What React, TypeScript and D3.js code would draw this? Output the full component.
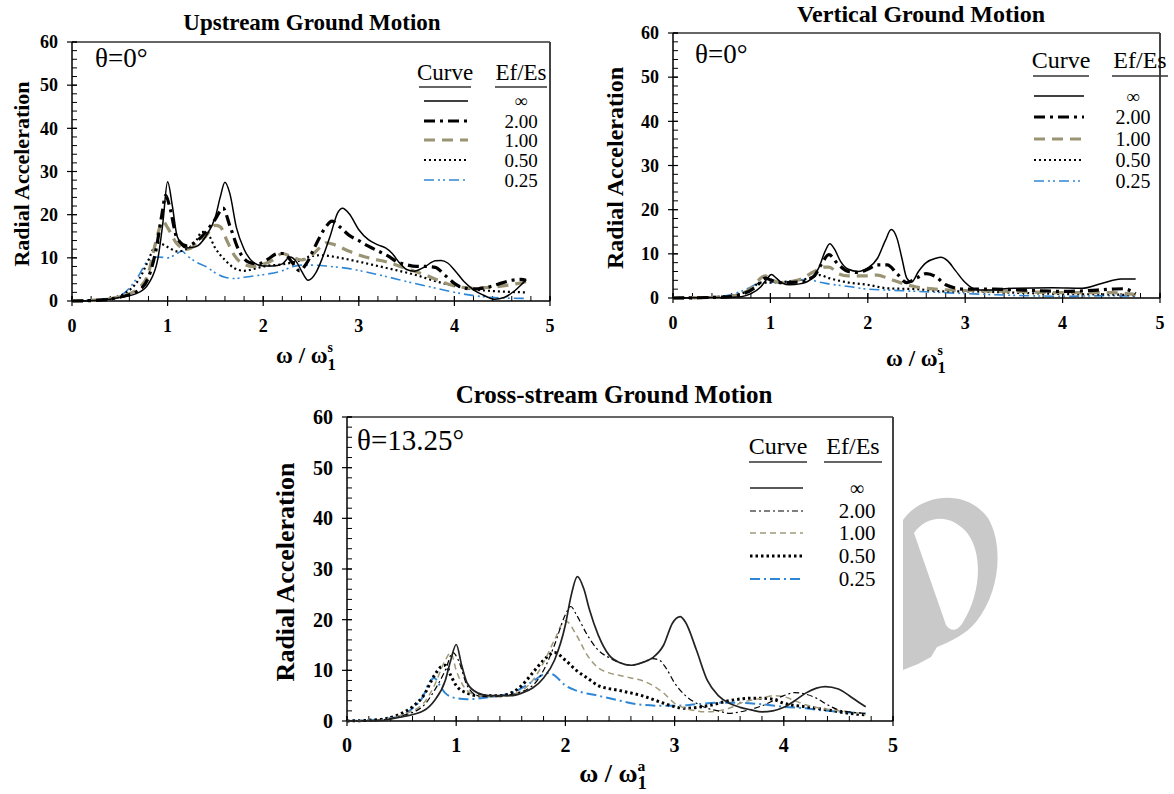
import React from 'react';
import * as d3 from 'd3';

type Pt = [number, number];

const xTickValues = [0, 1, 2, 3, 4, 5];
const yTickValues = [0, 10, 20, 30, 40, 50, 60];
const legendLabels = ['∞', '2.00', '1.00', '0.50', '0.25'];

// ---------- Upstream Ground Motion (θ=0°) ----------
const upInf: Pt[] = [[0,0],[0.3,0.2],[0.5,0.8],[0.7,2],[0.8,4],[0.9,10],[0.95,18],[1.0,27.6],[1.05,22],[1.1,15],[1.19,12.3],[1.3,12.6],[1.4,15],[1.5,19.5],[1.55,24],[1.6,27.5],[1.65,25],[1.72,17],[1.8,12],[1.9,8.9],[2.0,8.1],[2.1,8.1],[2.2,8.6],[2.28,10.2],[2.35,9],[2.4,7],[2.47,4.8],[2.55,6.5],[2.62,10],[2.7,15],[2.78,20.5],[2.83,21.5],[2.9,20.2],[3.0,16.5],[3.1,14.2],[3.2,13],[3.28,12.3],[3.35,11],[3.42,9],[3.5,7.3],[3.58,6.9],[3.68,7.8],[3.8,9.3],[3.86,9.4],[3.93,8.8],[4.0,7.2],[4.1,4.5],[4.2,2.6],[4.3,1.4],[4.42,0.4],[4.52,0.8],[4.62,2.2],[4.7,3.8],[4.75,4.9]];
const upTwo: Pt[] = [[0,0],[0.3,0.2],[0.5,0.9],[0.7,2.5],[0.8,5.5],[0.88,12],[0.94,20],[0.98,24.5],[1.02,22],[1.1,14.5],[1.2,12.8],[1.3,13.8],[1.4,16],[1.5,19],[1.58,21.5],[1.65,17.5],[1.75,11.5],[1.85,9],[1.95,8.6],[2.05,9.7],[2.15,11],[2.22,11],[2.3,9],[2.38,7],[2.45,8.6],[2.55,13],[2.65,17],[2.72,18.5],[2.8,17.2],[2.9,15.2],[3.0,14],[3.1,12.7],[3.2,11.6],[3.3,10.5],[3.4,9.1],[3.5,8.4],[3.6,8],[3.7,8],[3.8,7.8],[3.9,6],[4.0,4.1],[4.1,3],[4.2,2.8],[4.3,3],[4.4,3.5],[4.5,4.2],[4.6,4.8],[4.7,5],[4.75,4.8]];
const upOne: Pt[] = [[0,0],[0.3,0.3],[0.5,1],[0.7,3],[0.8,6.5],[0.88,14],[0.95,18.5],[1.0,17],[1.1,13.2],[1.2,12],[1.3,13],[1.4,15],[1.5,17.5],[1.55,17.2],[1.62,14],[1.7,10.5],[1.8,8.5],[1.9,8],[2.0,8.5],[2.1,9.5],[2.2,11],[2.3,10.2],[2.4,9.5],[2.5,10.5],[2.6,12.5],[2.66,13.5],[2.75,13],[2.9,11.5],[3.1,10],[3.3,9],[3.5,7.5],[3.7,6],[3.9,4.2],[4.0,3.5],[4.2,3],[4.4,3.2],[4.6,3.8],[4.75,4.5]];
const upHalf: Pt[] = [[0,0],[0.3,0.3],[0.5,1.2],[0.6,2.5],[0.7,5],[0.8,9.5],[0.86,12.5],[0.9,13.5],[1.0,12.5],[1.1,11.5],[1.2,12],[1.3,14],[1.36,16],[1.42,15.5],[1.5,12.2],[1.6,9.5],[1.7,7.6],[1.8,7],[1.9,7.4],[2.0,8],[2.2,8.5],[2.4,9.5],[2.5,10.4],[2.6,10.6],[2.8,10],[3.0,9.1],[3.2,8.1],[3.4,7.1],[3.6,6],[3.8,4.6],[4.0,3.5],[4.2,2.7],[4.4,2.3],[4.6,2.1],[4.75,2]];
const upQuarter: Pt[] = [[0,0],[0.3,0.4],[0.5,1.2],[0.6,3],[0.7,6],[0.8,9.5],[0.9,10.2],[1.0,10],[1.1,11],[1.15,11.6],[1.2,10.6],[1.3,9],[1.4,8],[1.5,6.5],[1.6,5.5],[1.7,5.2],[1.8,5.5],[2.0,6.1],[2.2,7],[2.3,7.9],[2.4,8.3],[2.55,8.3],[2.7,8],[2.9,7.5],[3.1,6.6],[3.3,5.6],[3.5,4.5],[3.7,3.5],[3.9,2.5],[4.1,1.6],[4.3,1],[4.5,0.7],[4.75,0.6]];

// ---------- Vertical Ground Motion (θ=0°) ----------
const vtInf: Pt[] = [[0,0],[0.5,0.1],[0.7,0.3],[0.8,1],[0.9,2.5],[0.96,4.2],[1.01,5.3],[1.06,4.5],[1.12,3.4],[1.2,3],[1.3,3.2],[1.4,4],[1.5,7],[1.56,10.5],[1.61,12.3],[1.66,11],[1.72,8.3],[1.8,6.5],[1.9,6],[2.0,6.8],[2.1,9],[2.18,13],[2.24,15.5],[2.3,13.5],[2.35,9],[2.4,4.5],[2.45,3.6],[2.52,6],[2.6,8],[2.7,9],[2.75,9.2],[2.82,8.4],[2.9,6.2],[3.0,3.5],[3.1,2],[3.2,1.8],[3.5,2.2],[3.9,2.3],[4.2,2.2],[4.4,3.3],[4.6,4.3],[4.75,4.3]];
const vtTwo: Pt[] = [[0,0],[0.5,0.2],[0.7,0.8],[0.85,2.5],[0.95,4.5],[1.0,4.1],[1.1,3.5],[1.3,3.6],[1.45,5],[1.52,7.5],[1.6,9.8],[1.7,7.5],[1.8,6],[1.9,5.8],[2.0,6.5],[2.1,7.5],[2.2,7.5],[2.3,5.5],[2.4,3.5],[2.5,4.5],[2.6,5.5],[2.7,4.8],[2.8,3],[3.0,2],[3.3,2],[3.6,1.8],[4.0,1.5],[4.2,1.6],[4.5,2],[4.62,2.1],[4.75,1]];
const vtOne: Pt[] = [[0,0],[0.5,0.2],[0.7,1],[0.82,2.5],[0.9,4.5],[0.95,5],[1.0,4.3],[1.1,3.5],[1.3,4.2],[1.45,6],[1.55,7],[1.6,7],[1.7,5.5],[1.8,5],[2.0,5],[2.1,5.2],[2.2,4.5],[2.4,3],[2.5,2.5],[2.7,2],[3.0,1.7],[3.5,1.5],[4.0,1.2],[4.5,1.2],[4.75,0.8]];
const vtHalf: Pt[] = [[0,0],[0.5,0.3],[0.7,1],[0.8,2],[0.9,3.5],[1.0,3.5],[1.2,3.8],[1.4,4.5],[1.5,5.2],[1.6,4.5],[1.8,3.5],[2.0,3],[2.2,2.2],[2.5,2],[2.8,1.5],[3.0,1.5],[3.5,1.2],[4.0,0.9],[4.5,0.8],[4.75,0.6]];
const vtQuarter: Pt[] = [[0,0],[0.5,0.4],[0.6,0.8],[0.7,1.5],[0.8,2.5],[0.9,3.5],[1.0,3.5],[1.2,3.8],[1.4,4.2],[1.5,3.6],[1.6,3.2],[1.8,2.6],[2.0,2],[2.2,1.8],[2.5,1.5],[2.8,1.2],[3.0,1],[3.5,0.6],[4.0,0.4],[4.5,0.5],[4.75,0.4]];

// ---------- Cross-stream Ground Motion (θ=13.25°) ----------
const csInf: Pt[] = [[0,0],[0.3,0.1],[0.5,0.8],[0.7,2],[0.8,4],[0.9,8],[0.95,12],[1.0,15.1],[1.05,11],[1.1,7.5],[1.2,5.5],[1.3,5],[1.5,5],[1.6,5.5],[1.7,6.5],[1.8,8.5],[1.9,12],[2.0,19],[2.05,24.5],[2.11,28.5],[2.17,26],[2.22,22],[2.3,17],[2.4,13],[2.5,11.5],[2.6,11],[2.7,11.5],[2.8,12.5],[2.9,15],[2.98,19.3],[3.05,20.6],[3.1,19.5],[3.2,14],[3.3,8],[3.4,5],[3.5,3.5],[3.6,2.7],[3.7,2.2],[3.8,1.8],[3.9,2],[4.0,2.7],[4.1,4],[4.2,5.5],[4.3,6.5],[4.38,6.8],[4.5,6.3],[4.6,5],[4.7,3.5],[4.75,2.8]];
const csTwo: Pt[] = [[0,0],[0.3,0.2],[0.5,1],[0.7,3],[0.8,6],[0.9,10],[0.97,13.5],[1.02,12],[1.1,7],[1.2,5],[1.3,4.8],[1.5,5.2],[1.7,7],[1.8,10],[1.9,15],[2.0,21],[2.05,22.6],[2.1,21],[2.2,17],[2.3,14],[2.4,12.5],[2.5,11.5],[2.6,11],[2.7,11.5],[2.8,12.3],[2.86,12],[2.92,10.5],[3.0,7.5],[3.1,5],[3.2,3.5],[3.3,2.5],[3.4,2],[3.5,1.5],[3.6,1.8],[3.8,3],[4.0,5],[4.1,5.6],[4.2,5.3],[4.3,4.5],[4.4,3.2],[4.5,2.2],[4.6,1.8],[4.75,1.5]];
const csOne: Pt[] = [[0,0],[0.3,0.2],[0.5,1.2],[0.7,3.5],[0.8,7],[0.9,12],[0.95,13.5],[1.0,10],[1.1,6],[1.2,5],[1.4,4.8],[1.6,6],[1.7,8],[1.8,11.5],[1.9,16],[2.0,19.8],[2.1,17],[2.2,13],[2.3,10.5],[2.4,9.5],[2.5,9],[2.6,8.5],[2.7,8],[2.8,7],[2.9,5.5],[3.0,3.5],[3.1,2.5],[3.2,2],[3.3,1.8],[3.4,2],[3.5,2.5],[3.6,3.5],[3.8,4.5],[3.9,5],[4.0,4.8],[4.1,4],[4.2,3.2],[4.4,2.3],[4.6,1.8],[4.75,1.3]];
const csHalf: Pt[] = [[0,0],[0.3,0.3],[0.5,1.5],[0.6,2.8],[0.7,5],[0.8,9],[0.85,10.5],[0.9,11],[0.95,9],[1.0,7],[1.1,5.5],[1.2,5],[1.4,5],[1.6,7],[1.7,9.5],[1.8,12],[1.9,13.5],[2.0,12],[2.1,10],[2.2,8.5],[2.3,7],[2.5,6],[2.7,5],[2.9,3.5],[3.0,2.8],[3.1,2.5],[3.3,3],[3.5,4],[3.7,4.5],[3.8,4.5],[3.9,4.3],[4.0,3.5],[4.2,2.8],[4.4,2.2],[4.6,1.5],[4.75,1.2]];
const csQuarter: Pt[] = [[0,0],[0.3,0.3],[0.5,1],[0.6,2.5],[0.7,5],[0.75,7.5],[0.8,8.5],[0.85,7],[0.9,5.5],[1.0,4.5],[1.1,4.3],[1.3,4.7],[1.5,5.5],[1.6,6.5],[1.7,7.8],[1.8,9.2],[1.85,9.5],[1.9,9],[2.0,7],[2.1,6],[2.3,5],[2.5,4],[2.7,3.2],[2.9,3],[3.0,3],[3.2,3.3],[3.4,3.6],[3.6,3.6],[3.8,3.3],[4.0,2.8],[4.2,2.5],[4.4,2],[4.6,1.7],[4.75,1.5]];

type LineStyle = { stroke: string; width: number; dash?: string };

const topStyles: LineStyle[] = [
  { stroke: '#000', width: 1.5 },
  { stroke: '#000', width: 3.2, dash: '11 5 3 5' },
  { stroke: '#9a9474', width: 3.2, dash: '11 7' },
  { stroke: '#000', width: 2.2, dash: '2 3' },
  { stroke: '#2e86d4', width: 1.6, dash: '10 4 2 3 2 4' },
];
const bottomStyles: LineStyle[] = [
  { stroke: '#222', width: 1.7 },
  { stroke: '#000', width: 1.2, dash: '6 3 2 3' },
  { stroke: '#a09a7a', width: 1.5, dash: '6 4' },
  { stroke: '#000', width: 3, dash: '2.5 3' },
  { stroke: '#2e86d4', width: 2, dash: '10 4 2 4' },
];

const SERIF = '"Liberation Serif", "Times New Roman", serif';

interface Sizes { title: number; tick: number; theta: number; head: number; value: number; xlab: number; ylab: number }

interface PanelProps {
  left: number; right: number; top: number; bottom: number;
  title: string; titleX: number; titleY: number;
  theta: string; thetaX: number; thetaY: number;
  curveX: number; efX: number; headerY: number; underlineY: number; ulHalf: number;
  lineX1: number; lineX2: number; rowsY: number[]; valueX: number;
  xLabelX: number; xLabelY: number; sup: string;
  yLabelX: number; yLabelY: number;
  series: Pt[][]; styles: LineStyle[]; fs: Sizes;
}

function Panel(p: PanelProps) {
  const x = d3.scaleLinear().domain([0, 5]).range([p.left, p.right]);
  const y = d3.scaleLinear().domain([0, 60]).range([p.bottom, p.top]);
  const line = d3.line<Pt>().x(d => x(d[0])).y(d => y(d[1])).curve(d3.curveMonotoneX);
  const minorX = d3.range(0, 5.001, 0.2);
  const minorY = d3.range(0, 60.001, 2);
  const order = [4, 3, 2, 1, 0];
  const fs = p.fs;
  return (
    <g>
      <text x={p.titleX} y={p.titleY} textAnchor="middle" fontFamily={SERIF} fontWeight="bold" fontSize={fs.title}>{p.title}</text>
      <line x1={p.left} x2={p.right} y1={p.top} y2={p.top} stroke="#333" strokeWidth={1.5} />
      <line x1={p.right} x2={p.right} y1={p.top} y2={p.bottom} stroke="#444" strokeWidth={2} />
      {minorX.map((v, i) => (
        <line key={'mx' + i} x1={x(v)} x2={x(v)} y1={p.bottom} y2={p.bottom - 5} stroke="#000" strokeWidth={1} />
      ))}
      {minorY.map((v, i) => (
        <line key={'my' + i} x1={p.left} x2={p.left + 5} y1={y(v)} y2={y(v)} stroke="#000" strokeWidth={1} />
      ))}
      {xTickValues.map(v => (
        <g key={'xt' + v}>
          <line x1={x(v)} x2={x(v)} y1={p.bottom + 5} y2={p.bottom - 5} stroke="#000" strokeWidth={1.2} />
          <text x={x(v)} y={p.bottom + 31} textAnchor="middle" fontFamily={SERIF} fontWeight="bold" fontSize={fs.tick}>{v}</text>
        </g>
      ))}
      {yTickValues.map(v => (
        <g key={'yt' + v}>
          <line x1={p.left - 5} x2={p.left + 5} y1={y(v)} y2={y(v)} stroke="#000" strokeWidth={1.2} />
          <text x={p.left - 14} y={y(v)} dy="0.35em" textAnchor="end" fontFamily={SERIF} fontWeight="bold" fontSize={fs.tick}>{v}</text>
        </g>
      ))}
      <line x1={p.left} x2={p.right} y1={p.bottom} y2={p.bottom} stroke="#000" strokeWidth={1.5} />
      <line x1={p.left} x2={p.left} y1={p.top} y2={p.bottom} stroke="#000" strokeWidth={1.5} />
      {order.map(i => (
        <path key={'s' + i} d={line(p.series[i]) || ''} fill="none" stroke={p.styles[i].stroke}
          strokeWidth={p.styles[i].width} strokeDasharray={p.styles[i].dash} />
      ))}
      <text x={p.thetaX} y={p.thetaY} fontFamily={SERIF} fontSize={fs.theta}>{p.theta}</text>
      <text x={p.curveX} y={p.headerY} textAnchor="middle" fontFamily={SERIF} fontSize={fs.head}>Curve</text>
      <text x={p.efX} y={p.headerY} textAnchor="middle" fontFamily={SERIF} fontSize={fs.head}>Ef/Es</text>
      <line x1={p.curveX - p.ulHalf} x2={p.curveX + p.ulHalf} y1={p.underlineY} y2={p.underlineY} stroke="#333" strokeWidth={1.6} />
      <line x1={p.efX - p.ulHalf} x2={p.efX + p.ulHalf} y1={p.underlineY} y2={p.underlineY} stroke="#333" strokeWidth={1.6} />
      {legendLabels.map((lab, i) => (
        <g key={'lg' + i}>
          <line x1={p.lineX1} x2={p.lineX2} y1={p.rowsY[i]} y2={p.rowsY[i]} stroke={p.styles[i].stroke}
            strokeWidth={p.styles[i].width} strokeDasharray={p.styles[i].dash} />
          <text x={p.valueX} y={p.rowsY[i]} dy="0.35em" textAnchor="middle" fontFamily={SERIF} fontSize={i === 0 ? fs.value - 1 : fs.value}>{lab}</text>
        </g>
      ))}
      <text x={p.xLabelX} y={p.xLabelY} textAnchor="middle" fontFamily={SERIF} fontWeight="bold" fontSize={fs.xlab}>
        ω / ω<tspan dy={7} fontSize={fs.xlab * 0.72}>1</tspan><tspan dx={-fs.xlab * 0.36} dy={-18} fontSize={fs.xlab * 0.6}>{p.sup}</tspan>
      </text>
      <text transform={`translate(${p.yLabelX},${p.yLabelY}) rotate(-90)`} textAnchor="middle" fontFamily={SERIF}
        fontWeight="bold" fontSize={fs.ylab}>Radial Acceleration</text>
    </g>
  );
}

const fsUp: Sizes = { title: 23, tick: 18, theta: 27, head: 23, value: 19, xlab: 23, ylab: 22 };
const fsVt: Sizes = { title: 24, tick: 18, theta: 27, head: 24, value: 20, xlab: 23, ylab: 24 };
const fsCs: Sizes = { title: 25, tick: 20, theta: 29, head: 24, value: 21, xlab: 26, ylab: 26 };

export default function App() {
  return (
    <svg width={1174} height={794} style={{ display: 'block', position: 'absolute', left: 0, top: 0, background: '#fff' }}>
      <rect x={0} y={0} width={1174} height={794} fill="#fff" />
      <path fillRule="evenodd" fill="#c9c9c9"
        d="M903,520 C920,495 965,487 988,518 C1004,545 1000,592 976,622 C966,634 952,641 937,647 L931,657 L918,664 L903,670 Z M914,533 C928,514 952,514 968,534 C983,555 981,594 962,624 C956,632 950,631 946,625 Z" />
      <Panel left={72} right={550} top={42} bottom={301}
        title="Upstream Ground Motion" titleX={312} titleY={30}
        theta="θ=0°" thetaX={95} thetaY={67}
        curveX={445} efX={521} headerY={80} underlineY={87} ulHalf={26}
        lineX1={424} lineX2={468} rowsY={[101, 121, 140, 160, 180]} valueX={521}
        xLabelX={306} xLabelY={363} sup="s" yLabelX={29} yLabelY={174}
        series={[upInf, upTwo, upOne, upHalf, upQuarter]} styles={topStyles} fs={fsUp} />
      <Panel left={673} right={1160} top={33} bottom={298}
        title="Vertical Ground Motion" titleX={921} titleY={22}
        theta="θ=0°" thetaX={695} thetaY={63}
        curveX={1061} efX={1140} headerY={68} underlineY={76} ulHalf={28}
        lineX1={1034} lineX2={1084} rowsY={[96, 117, 139, 160, 181]} valueX={1133}
        xLabelX={916} xLabelY={366} sup="s" yLabelX={623} yLabelY={168}
        series={[vtInf, vtTwo, vtOne, vtHalf, vtQuarter]} styles={topStyles} fs={fsVt} />
      <Panel left={347} right={893} top={417} bottom={721}
        title="Cross-stream Ground Motion" titleX={614} titleY={403}
        theta="θ=13.25°" thetaX={357} thetaY={450}
        curveX={778} efX={853} headerY={454} underlineY={462} ulHalf={29}
        lineX1={750} lineX2={803} rowsY={[488, 511, 533, 556, 579]} valueX={857}
        xLabelX={613} xLabelY={782} sup="a" yLabelX={294} yLabelY={572}
        series={[csInf, csTwo, csOne, csHalf, csQuarter]} styles={bottomStyles} fs={fsCs} />
    </svg>
  );
}
